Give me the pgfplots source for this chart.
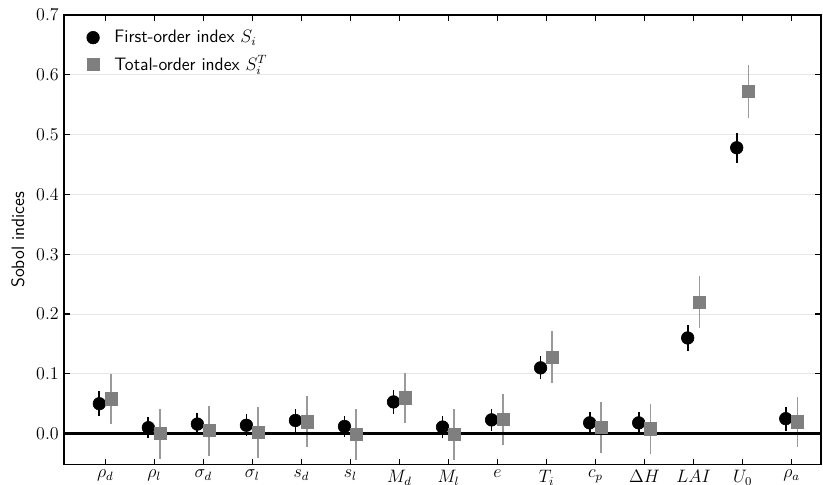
\documentclass[border=0pt]{standalone}
\usepackage{pgfplots}
\pgfplotsset{compat=1.18}
\definecolor{sqgray}{HTML}{7F7F7F}
\definecolor{errgray}{HTML}{9A9A9A}
\definecolor{gridgray}{HTML}{E6E6E6}
\begin{document}
\begin{tikzpicture}
\begin{axis}[
  scale only axis,
  width=505pt, height=300pt,
  xmin=-0.84, xmax=14.6,
  ymin=-0.052, ymax=0.7,
  xtick={0,...,14},
  xticklabels={$\rho_d$,$\rho_l$,$\sigma_d$,$\sigma_l$,$s_d$,$s_l$,$M_d$,$M_l$,$e$,$T_i$,$c_p$,$\Delta H$,$LAI$,$U_0$,$\rho_a$},
  ytick={0,0.1,0.2,0.3,0.4,0.5,0.6,0.7},
  yticklabel style={/pgf/number format/fixed,/pgf/number format/fixed zerofill,/pgf/number format/precision=1},
  ticklabel style={font=\large},
  tick align=inside,
  major tick length=4pt,
  tick style={line width=0.9pt,black},
  axis line style={line width=1pt},
  ymajorgrids,
  grid style={gridgray,line width=0.6pt},
  ylabel={\sffamily Sobol indices},
  ylabel style={at={(axis description cs:0,0.5)},anchor=center,yshift=30.7pt,font=\large},
  legend style={draw=none,fill=none,at={(axis description cs:0,1)},anchor=north west,xshift=12pt,yshift=-6pt,font=\large\sffamily,row sep=3pt,column sep=8pt},
  legend cell align=left,
]
\coordinate (BL) at (rel axis cs:0,0);
\coordinate (TR) at (rel axis cs:1,1);
\addplot[only marks, mark=*, mark size=4.2pt, black,
  error bars/.cd, y dir=both, y explicit, error bar style={line width=1.2pt,black}, error mark=none]
  coordinates {
  (-0.12,0.050) +- (0,0.021)
  (0.88,0.010) +- (0,0.018)
  (1.88,0.016) +- (0,0.018)
  (2.88,0.014) +- (0,0.018)
  (3.88,0.022) +- (0,0.020)
  (4.88,0.012) +- (0,0.018)
  (5.88,0.053) +- (0,0.020)
  (6.88,0.011) +- (0,0.019)
  (7.88,0.023) +- (0,0.018)
  (8.88,0.110) +- (0,0.019)
  (9.88,0.018) +- (0,0.018)
  (10.88,0.018) +- (0,0.018)
  (11.88,0.160) +- (0,0.022)
  (12.88,0.478) +- (0,0.025)
  (13.88,0.025) +- (0,0.020)
  };
\addlegendentry{First-order index $S_i$}
\addplot[only marks, mark=square*, mark size=4.1pt, sqgray,
  error bars/.cd, y dir=both, y explicit, error bar style={line width=1.2pt,errgray}, error mark=none]
  coordinates {
  (0.12,0.058) +- (0,0.042)
  (1.12,0.000) +- (0,0.042)
  (2.12,0.005) +- (0,0.042)
  (3.12,0.002) +- (0,0.043)
  (4.12,0.020) +- (0,0.043)
  (5.12,-0.001) +- (0,0.043)
  (6.12,0.060) +- (0,0.042)
  (7.12,-0.001) +- (0,0.043)
  (8.12,0.024) +- (0,0.043)
  (9.12,0.128) +- (0,0.043)
  (10.12,0.010) +- (0,0.043)
  (11.12,0.008) +- (0,0.042)
  (12.12,0.220) +- (0,0.043)
  (13.12,0.572) +- (0,0.045)
  (14.12,0.020) +- (0,0.042)
  };
\addlegendentry{Total-order index $S_i^T$}
\draw[black,line width=1.7pt] (axis cs:-0.84,0) -- (axis cs:14.6,0);
\end{axis}
\pgfresetboundingbox
\useasboundingbox ([xshift=-42.7pt,yshift=-13.3pt]BL) rectangle ([xshift=1.3pt,yshift=10pt]TR);
\end{tikzpicture}
\end{document}
